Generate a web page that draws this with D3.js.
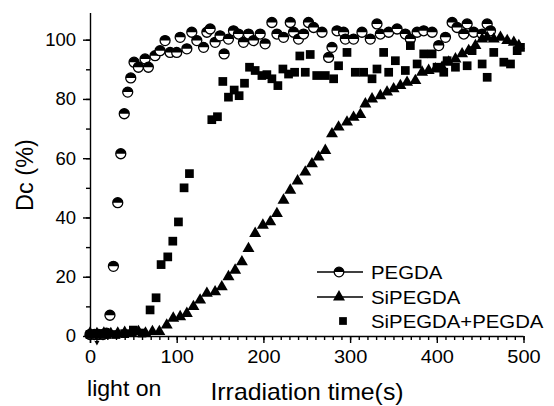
<!DOCTYPE html>
<html><head><meta charset="utf-8">
<script src="https://cdn.jsdelivr.net/npm/d3@7"></script>
<style>
body{margin:0;background:#fff}
text{font-family:"Liberation Sans",Arial,sans-serif;fill:#000}
</style>
</head><body>
<svg id="c" width="554" height="406"></svg>
<script>
// ---- data ----
const pegdaTime = [0,5,10,15,19,23,27,32,35.5,39.5,43.5,47,50.8,55.8,63.5,67.3,75,80.8,86.6,92.4,100,104,111.7,117.4,123.2,131,134.8,138.6,144.3,150,154.7,159.7,165.5,171.2,177,182.8,188.6,196.3,202,209.8,215.6,223.2,231,234.8,240.5,246.3,252,257.9,267.6,275.2,279.1,284.9,292.5,294.5,304,313.7,323.3,331,334.9,344.5,354.2,363.7,369.5,377.3,384.9,394.6,402.2,410,417.7,423.4,431.1,435,442.6,452.3,458.1,461.9];
const pegdaDc   = [0.5,0.5,0.5,0.5,1,7,23.5,45,61.5,75,82.3,87.1,92.4,90.7,93.5,90.7,94.6,96.3,99.7,95.7,95.7,100.8,96.9,102.5,99.7,97.4,102.5,103.6,99.1,101.3,95.2,100.2,103,101.9,99.1,101.9,99.7,101.9,98.6,105.8,101.9,100.8,105.8,102.5,100.2,101.9,105.8,104.1,102.5,94,97.4,103,102.5,100.2,100.2,102.5,100.2,105.3,101.9,102.5,103.6,101.9,100.2,102.5,103,102.5,98,100.8,105.8,104.1,101.9,105.3,102.5,101.9,105.3,103];

const siTime = [0,8,16,24,32,40,48,56,64,72,80,88.5,96,104,111.7,119.3,127,134.8,144.3,152,159.7,167.4,175.2,182.8,190.5,199.4,207.9,215.6,223.2,231,239.4,248.3,256,263.6,271.4,279.1,286.7,296.4,304,311.8,317.6,325.3,334.9,342.6,350.2,358,365.7,375.3,383,390.6,398.4,406.1,413.7,421.5,429.2,436.8,444.6,452.3,458.1,465.7,473.4,481.2,488.8,494.6];
const siDc   = [1,0.8,1,0.8,1,1.2,0.8,1.5,1,1.5,1.5,3.7,6,6.5,7.6,9.9,12.1,14.4,14.9,16.6,20,22.2,25,29.5,34.6,37.4,38.5,41.3,45.8,49.2,52.3,55.3,58.1,60.4,62.6,68.2,70.5,72.2,73.8,74.7,78.3,80,81.1,82.3,83.4,84.5,85.6,86.2,89,89.6,90.1,90.7,92.4,93.5,95.2,96.3,98,100.2,100.8,100.2,100.8,99.7,99.1,98];

const mixTime = [0,10,20,30,40,50,60,69.3,76.2,82,89.7,95.5,102,108.5,114.7,140.5,147,153.2,159.7,166.3,172,178.2,184,190.5,198.3,204,209.8,216.7,222.5,229,236,242,248.3,254,261.5,271.4,281,286.7,296.4,306,315.6,325.3,331,338.7,344.5,352.2,363.7,369.5,377.3,384.9,394.6,400.3,408,411.9,421.5,435,440.7,452.3,458.1,465.7,477.3,485,492.7,496.5];
const mixDc   = [0.5,0.5,0.5,0.5,0.8,2,1,8.8,12.9,24.1,26.7,32,38.5,50,54.8,73,74,85.9,80.6,83,81.1,85.3,90.7,89.6,87.9,88.2,86.8,84.5,90.1,88.4,89,94.5,89,95,87.9,87.9,86.8,91.2,95.7,89,89,86.8,90.1,95.7,89,92.9,89.6,98,91.8,95.2,95.2,90.7,89,92.9,90.7,91.2,96.3,91.8,87.3,95.7,92.4,91.8,96.3,97.4];

const xTicks = [0,100,200,300,400,500];
const yTicks = [0,20,40,60,80,100];
const seriesNames = ["PEGDA","SiPEGDA","SiPEGDA+PEGDA"];
const lightOnTime = 8;

// ---- chart ----
const svg = d3.select("#c");
const x = d3.scaleLinear().domain([0,500]).range([90,523.5]);
const y = d3.scaleLinear().domain([0,109]).range([336,13]);
const FONT = '"Liberation Sans",Arial,sans-serif';

// axes
const xAxisG = svg.append("g").attr("transform","translate(0,336)");
xAxisG.call(d3.axisBottom(x).tickValues(d3.range(0,501,10)).tickSize(4).tickFormat(""));
xAxisG.call(g=>g.select(".domain").remove());
const xMajor = svg.append("g").attr("transform","translate(0,336)")
  .call(d3.axisBottom(x).tickValues(xTicks).tickSize(7).tickPadding(7).tickFormat(d3.format("d")));
xMajor.selectAll("text").attr("font-size",18.5).attr("fill","#000").attr("transform","scale(1.08,1)")
  .style("font-family",FONT);
xMajor.select(".domain").attr("d",`M${x(0)},0.5H${x(500)}`);

const yMinor = svg.append("g").attr("transform","translate(90,0)")
  .call(d3.axisLeft(y).tickValues(d3.range(0,101,10)).tickSize(4).tickFormat(""));
yMinor.select(".domain").remove();
const yMajor = svg.append("g").attr("transform","translate(90,0)")
  .call(d3.axisLeft(y).tickValues(yTicks).tickSize(7).tickPadding(7));
yMajor.selectAll("text").attr("font-size",18.5).attr("fill","#000")
  .style("font-family",FONT);
yMajor.select(".domain").attr("d",`M0.5,${y(109)}V${y(0)+7}`);

svg.selectAll(".domain,.tick line").attr("stroke","#000").attr("stroke-width",1.4);

// markers
function halfCircle(g, cx, cy, r){
  const m = g.append("g").attr("transform",`translate(${cx},${cy})`);
  m.append("circle").attr("r",r).attr("fill","#fff").attr("stroke","#000").attr("stroke-width",1.3);
  m.append("path").attr("d",`M${-r},0A${r},${r} 0 0 1 ${r},0Z`).attr("fill","#000");
}
const triPath = d3.symbol(d3.symbolTriangle).size(62)();
const sqPath = d3.symbol(d3.symbolSquare).size(76)();

const gP = svg.append("g");
pegdaTime.forEach((t,i)=>halfCircle(gP, x(t), y(pegdaDc[i]), 5));

svg.append("g").selectAll("path").data(mixTime).join("path")
  .attr("d",sqPath).attr("fill","#000")
  .attr("transform",(t,i)=>`translate(${x(t)},${y(mixDc[i])})`);

svg.append("g").selectAll("path").data(siTime).join("path")
  .attr("d",triPath).attr("fill","#000")
  .attr("transform",(t,i)=>`translate(${x(t)},${y(siDc[i])})`);

// light-on arrow
const ax = x(lightOnTime);
svg.append("line").attr("x1",ax).attr("x2",ax).attr("y1",337).attr("y2",342).attr("stroke","#000").attr("stroke-width",1.4);
svg.append("path").attr("d",`M${ax-2.5},341L${ax+2.5},341L${ax},345.5Z`).attr("fill","#000");

// legend
const leg = svg.append("g");
const legY = [272, 297, 321];
leg.append("line").attr("x1",317).attr("x2",363).attr("y1",legY[0]).attr("y2",legY[0]).attr("stroke","#000").attr("stroke-width",1.3);
halfCircle(leg, 339, legY[0], 4.8);
leg.append("line").attr("x1",317).attr("x2",363).attr("y1",legY[1]).attr("y2",legY[1]).attr("stroke","#000").attr("stroke-width",1.3);
leg.append("path").attr("d",triPath).attr("fill","#000").attr("transform",`translate(339,${legY[1]})`);
leg.append("path").attr("d",d3.symbol(d3.symbolSquare).size(60)()).attr("fill","#000").attr("transform",`translate(343,${legY[2]})`);
seriesNames.forEach((s,i)=>{
  leg.append("text").attr("transform",`translate(371,${legY[i]+6.5}) scale(1.1,1)`)
    .attr("font-size",18.5).text(s);
});

// axis titles
svg.append("text").attr("transform","translate(33,175) rotate(-90)")
  .attr("text-anchor","middle").attr("font-size",23.5).text("Dc (%)");
svg.append("text").attr("transform","translate(307,400) scale(1.08,1)")
  .attr("text-anchor","middle").attr("font-size",23).text("Irradiation time(s)");
svg.append("text").attr("transform","translate(87,396) scale(1.05,1)")
  .attr("font-size",22).text("light on");
</script>
</body></html>
